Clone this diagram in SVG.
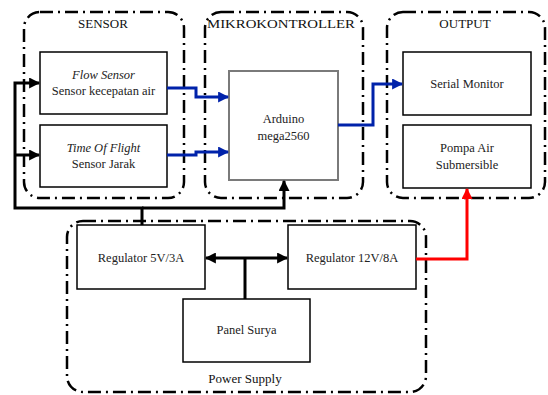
<svg xmlns="http://www.w3.org/2000/svg" width="548" height="395" viewBox="0 0 548 395">
<defs>
<style>
.grp{fill:none;stroke:#000;stroke-width:2.5;stroke-dasharray:13,5,2,5}
.box{fill:#fff;stroke:#000;stroke-width:1.5}
text{font-family:'Liberation Serif',Tinos,'Noto Serif','DejaVu Serif','Times New Roman',Times,serif}
.t{font-size:12.5px;fill:#222;text-anchor:middle}
.lbl{font-size:13px;fill:#111;text-anchor:middle}
.blk{fill:none;stroke:#000;stroke-width:3}
.blu{fill:none;stroke:#0022aa;stroke-width:3}
.red{fill:none;stroke:#ff0000;stroke-width:3}
</style>
<marker id="ak" viewBox="0 0 10 10" refX="9" refY="5" markerWidth="11" markerHeight="11" markerUnits="userSpaceOnUse" orient="auto"><path d="M0,0 L10,5 L0,10 z" fill="#000"/></marker>
<marker id="ab" viewBox="0 0 10 10" refX="9" refY="5" markerWidth="11" markerHeight="11" markerUnits="userSpaceOnUse" orient="auto"><path d="M0,0 L10,5 L0,10 z" fill="#0022aa"/></marker>
<marker id="ar" viewBox="0 0 10 10" refX="9" refY="5" markerWidth="11" markerHeight="11" markerUnits="userSpaceOnUse" orient="auto"><path d="M0,0 L10,5 L0,10 z" fill="#ff0000"/></marker>
</defs>
<rect width="548" height="395" fill="#fff"/>

<g id="grp-sensor">
<rect class="grp" x="24" y="12" width="160" height="186" rx="16"/>
<text class="lbl" x="103" y="28">SENSOR</text>
</g>
<g id="grp-mikro">
<rect class="grp" x="205" y="12" width="158" height="186" rx="16"/>
<text class="lbl" x="281" y="28" textLength="148" lengthAdjust="spacingAndGlyphs">MIKROKONTROLLER</text>
</g>
<g id="grp-output">
<rect class="grp" x="387" y="12" width="158" height="186" rx="16"/>
<text class="lbl" x="465" y="28">OUTPUT</text>
</g>
<g id="grp-power">
<rect class="grp" x="67" y="221" width="359" height="171" rx="16"/>
<text class="lbl" x="245" y="383">Power Supply</text>
</g>

<g id="flow-sensor">
<rect class="box" x="40" y="52" width="127" height="62"/>
<text class="t" x="103.5" y="79" font-style="italic">Flow Sensor</text>
<text class="t" x="103.5" y="95">Sensor kecepatan air</text>
</g>
<g id="tof-sensor">
<rect class="box" x="40" y="125" width="127" height="62"/>
<text class="t" x="103.5" y="152" font-style="italic">Time Of Flight</text>
<text class="t" x="103.5" y="168">Sensor Jarak</text>
</g>
<g id="arduino">
<rect x="229" y="71" width="109" height="109" fill="#fff" stroke="#7a7a7a" stroke-width="2"/>
<text class="t" x="283.5" y="123">Arduino</text>
<text class="t" x="283.5" y="140">mega2560</text>
</g>
<g id="serial-monitor">
<rect class="box" x="403" y="52" width="128" height="63"/>
<text class="t" x="467" y="88">Serial Monitor</text>
</g>
<g id="pompa">
<rect class="box" x="403" y="125" width="128" height="63"/>
<text class="t" x="467" y="152">Pompa Air</text>
<text class="t" x="467" y="169" font-size="11.5">Submersible</text>
</g>
<g id="reg5">
<rect class="box" x="77" y="225" width="128" height="64"/>
<text class="t" x="141" y="262">Regulator 5V/3A</text>
</g>
<g id="reg12">
<rect class="box" x="288" y="225" width="128" height="64"/>
<text class="t" x="352" y="262">Regulator 12V/8A</text>
</g>
<g id="panel-surya">
<rect class="box" x="183" y="299" width="127" height="63"/>
<text class="t" x="246.5" y="334">Panel Surya</text>
</g>

<g id="connectors">
<path class="blk" d="M245,299 V258"/>
<path class="blk" d="M245,258 H206" marker-end="url(#ak)"/>
<path class="blk" d="M245,258 H287" marker-end="url(#ak)"/>
<path class="blk" d="M142,225 V208 H15 V83 H39" marker-end="url(#ak)"/>
<path class="blk" d="M15,155 H39" marker-end="url(#ak)"/>
<path class="blk" d="M142,208 H284 V181" marker-end="url(#ak)"/>
<path class="blu" d="M167,88 H196 V97 H228" marker-end="url(#ab)"/>
<path class="blu" d="M167,155 H196 V152 H228" marker-end="url(#ab)"/>
<path class="blu" d="M338,125 H373 V84 H402" marker-end="url(#ab)"/>
<path class="red" d="M416,259 H467 V189" marker-end="url(#ar)"/>
</g>
</svg>
